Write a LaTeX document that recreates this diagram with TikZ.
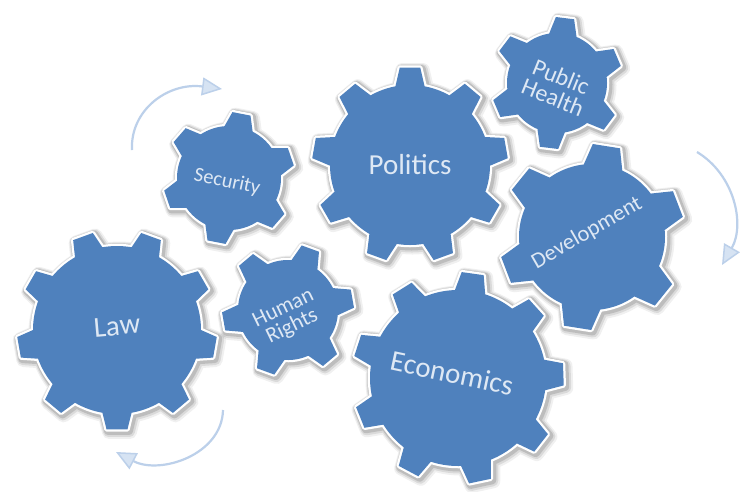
\documentclass[tikz,border=0pt]{standalone}
\usepackage{fontspec}
\setmainfont{Carlito}
\usetikzlibrary{arrows.meta}
\definecolor{gearblue}{RGB}{79,129,189}
\definecolor{geartext}{RGB}{222,232,244}
\definecolor{arrowline}{RGB}{188,208,234}
\definecolor{arrowfill}{RGB}{214,227,243}
\newcommand\gearoutline{%
  (\gOff-\gHb:\gRi) \foreach \i in {0,...,\gLast}{
    -- ({\gOff+\i*\gStep-\gHt}:\gRo) -- ({\gOff+\i*\gStep+\gHt}:\gRo)
    -- ({\gOff+\i*\gStep+\gHb}:\gRi)
    \foreach \k in {1,...,12}{ -- ({\gOff+\i*\gStep+\gHb+\k*(\gStep-2*\gHb)/12}:\gRi) }
  } -- cycle}
% #1 x, #2 y, #3 teeth, #4 offset angle, #5 inner r, #6 outer r, #7 half base angle, #8 half tip angle
\newcommand\mygear[8]{%
  \begin{scope}[shift={(#1,#2)}]
    \pgfmathsetmacro\gStep{360/#3}%
    \pgfmathtruncatemacro\gLast{#3-1}%
    \def\gOff{#4}\def\gRi{#5}\def\gRo{#6}\def\gHb{#7}\def\gHt{#8}%
    \draw[line width=14pt, black, opacity=0.06, line join=round, shift={(2.5,2.5)}] \gearoutline;
    \draw[line width=11pt, black, opacity=0.09, line join=round, shift={(2,2)}] \gearoutline;
    \draw[line width=8pt, black, opacity=0.13, line join=round, shift={(1.5,1.5)}] \gearoutline;
    \draw[line width=4.5pt, white, line join=round] \gearoutline;
    \fill[gearblue] \gearoutline;
  \end{scope}}
\tikzset{
  gtext/.style={text=geartext, inner sep=0pt, align=center},
  cyclearrow/.style={draw=arrowline, line width=2.2pt,
    -{Triangle[length=20pt, width=18pt, fill=arrowfill, line width=1.5pt]}}
}
\begin{document}
\begin{tikzpicture}[x=1pt, y=-1pt]
\useasboundingbox (0,0) rectangle (752,491);
\fill[white] (0,0) rectangle (752,491);
% gears
\mygear{117}{330}{9}{10}{84}{100}{10}{6}
\mygear{410}{165}{9}{30}{80}{98}{10.5}{6}
\mygear{458}{378}{9}{38}{88}{106}{10}{6}
\mygear{229}{178}{6}{41}{52}{66}{16}{8}
\mygear{288}{310}{6}{50}{50}{66}{16}{8}
\mygear{557}{83}{6}{37}{50}{66}{16}{8}
\mygear{592}{237}{6}{39}{73}{93}{15.5}{8.5}
% labels
\node[gtext, rotate=5, font=\fontsize{29}{31}\selectfont] (law) at (117,326) {Law};
\node[gtext, font=\fontsize{29}{31}\selectfont] (politics) at (410,165) {Politics};
\node[gtext, rotate=-12, font=\fontsize{29}{31}\selectfont] (economics) at (452,373) {Economics};
\node[gtext, rotate=-12, font=\fontsize{20.5}{22}\selectfont] (security) at (227,182) {Security};
\node[gtext, rotate=26, font=\fontsize{22}{20}\selectfont] (rights) at (288,318) {Human\\Rights};
\node[gtext, rotate=-22, font=\fontsize{24}{22}\selectfont] (health) at (557,87) {Public\\Health};
\node[gtext, rotate=30, font=\fontsize{22.5}{24}\selectfont] (development) at (587,233) {Development};
% cycle arrows
\coordinate (a1s) at (132,150);
\coordinate (a1e) at (222,89);
\coordinate (a2s) at (697,152);
\coordinate (a2e) at (722,265);
\coordinate (a3s) at (223,410);
\coordinate (a3e) at (116,452);
\draw[cyclearrow] (a1s) .. controls (130,110) and (168,82) .. (a1e);
\draw[cyclearrow] (a2s) .. controls (735,175) and (745,225) .. (a2e);
\draw[cyclearrow] (a3s) .. controls (222,455) and (160,475) .. (a3e);
\end{tikzpicture}
\end{document}
